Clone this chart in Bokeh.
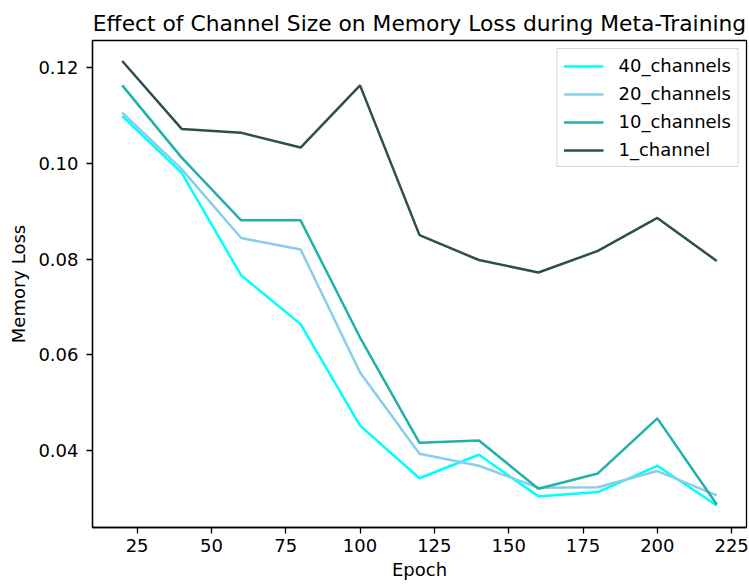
from bokeh.plotting import figure
from bokeh.models import Range1d, FixedTicker, PrintfTickFormatter
from bokeh.embed import file_html
from bokeh.resources import INLINE

epochs = [20, 40, 60, 80, 100, 120, 140, 160, 180, 200, 220]
loss_40_channels = [0.1099, 0.0980, 0.0766, 0.0664, 0.0452, 0.0342, 0.0391, 0.0304, 0.0313, 0.0368, 0.0285]
loss_20_channels = [0.1106, 0.0988, 0.0844, 0.0820, 0.0563, 0.0393, 0.0368, 0.0322, 0.0323, 0.0357, 0.0306]
loss_10_channels = [0.1163, 0.1012, 0.0881, 0.0881, 0.0636, 0.0416, 0.0421, 0.0320, 0.0352, 0.0467, 0.0287]
loss_1_channel = [0.1214, 0.1072, 0.1064, 0.1033, 0.1163, 0.0850, 0.0798, 0.0772, 0.0817, 0.0886, 0.0796]

series_labels = ["40_channels", "20_channels", "10_channels", "1_channel"]
series_colors = ["#00FFFF", "#87CEEB", "#20B2AA", "#2F4F4F"]
x_ticks = [25, 50, 75, 100, 125, 150, 175, 200, 225]
y_ticks = [0.04, 0.06, 0.08, 0.10, 0.12]

FONT = "DejaVu Sans"
TICK_SIZE = "18px"

p = figure(width=749, height=586, output_backend="svg", toolbar_location=None,
           x_range=Range1d(10, 230), y_range=Range1d(0.0239, 0.12568),
           min_border_left=92, min_border_right=3, min_border_top=40, min_border_bottom=59,
           title="Effect of Channel Size on Memory Loss during Meta-Training")

p.title.text_font = FONT
p.title.text_font_size = "21.8px"
p.title.text_font_style = "normal"
p.title.align = "center"
p.title.text_color = "black"
p.title.standoff = 10

for ys, lab, col in zip([loss_40_channels, loss_20_channels, loss_10_channels, loss_1_channel],
                        series_labels, series_colors):
    p.line(epochs, ys, line_color=col, line_width=2.5, legend_label=lab)

p.xgrid.visible = False
p.ygrid.visible = False
p.outline_line_color = "black"
p.outline_line_width = 1.3

p.xaxis.ticker = FixedTicker(ticks=x_ticks)
p.yaxis.ticker = FixedTicker(ticks=y_ticks)
p.xaxis.formatter = PrintfTickFormatter(format="%d")
p.yaxis.formatter = PrintfTickFormatter(format="%.2f")

for ax in (p.xaxis, p.yaxis):
    ax.axis_line_color = "black"
    ax.axis_line_width = 1.3
    ax.major_tick_line_color = "black"
    ax.major_tick_line_width = 1.3
    ax.major_tick_out = 6
    ax.major_tick_in = 0
    ax.minor_tick_line_color = None
    ax.major_label_text_font = FONT
    ax.major_label_text_font_size = TICK_SIZE
    ax.major_label_text_color = "black"
    ax.axis_label_text_font = FONT
    ax.axis_label_text_font_size = TICK_SIZE
    ax.axis_label_text_font_style = "normal"
    ax.axis_label_text_color = "black"

p.xaxis.axis_label = "Epoch"
p.yaxis.axis_label = "Memory Loss"
p.xaxis.major_label_standoff = 5
p.xaxis.axis_label_standoff = 4
p.yaxis.major_label_standoff = 8
p.yaxis.axis_label_standoff = 6

lg = p.legend[0]
lg.location = "top_right"
lg.margin = 8
lg.padding = 6
lg.spacing = 7
lg.glyph_width = 40
lg.glyph_height = 20
lg.label_height = 20
lg.label_standoff = 15
lg.label_text_font = FONT
lg.label_text_font_size = TICK_SIZE
lg.label_text_color = "black"
lg.border_line_color = "#cccccc"
lg.border_line_alpha = 0.8
lg.border_line_width = 1
lg.background_fill_alpha = 0.8

open("out.html", "w").write(file_html(p, INLINE))
